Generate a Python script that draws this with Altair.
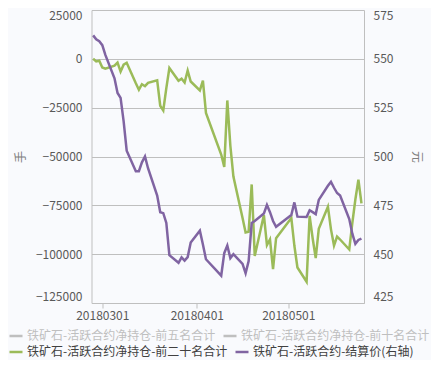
import altair as alt
import pandas as pd

# ---- data ----
dates = [
    "2018-02-26", "2018-02-27", "2018-02-28", "2018-03-01", "2018-03-02",
    "2018-03-05", "2018-03-06", "2018-03-07", "2018-03-08", "2018-03-09",
    "2018-03-12", "2018-03-13", "2018-03-14", "2018-03-15", "2018-03-16",
    "2018-03-19", "2018-03-20", "2018-03-21", "2018-03-22", "2018-03-23",
    "2018-03-26", "2018-03-27", "2018-03-28", "2018-03-29", "2018-03-30",
    "2018-04-02", "2018-04-03", "2018-04-04",
    "2018-04-09", "2018-04-10", "2018-04-11", "2018-04-12", "2018-04-13",
    "2018-04-16", "2018-04-17", "2018-04-18", "2018-04-19", "2018-04-20",
    "2018-04-23", "2018-04-24", "2018-04-25", "2018-04-26", "2018-04-27",
    "2018-05-02", "2018-05-03", "2018-05-04",
    "2018-05-07", "2018-05-08", "2018-05-09", "2018-05-10", "2018-05-11",
    "2018-05-14", "2018-05-15", "2018-05-16", "2018-05-17", "2018-05-18",
    "2018-05-21", "2018-05-22", "2018-05-23", "2018-05-24", "2018-05-25",
]

net_top20 = [
    0, -1300, -1000, -4400, -5000,
    -3500, -1900, -6500, -3000, -2000,
    -12500, -15800, -13000, -14000, -12300,
    -11000, -24000, -26400, -15000, -4700,
    -11200, -10200, -12100, -6000, -11600,
    -16200, -11200, -27700,
    -49000, -55300, -21300, -44500, -60300,
    -81500, -88900, -88500, -64300, -100900,
    -80000, -95400, -92500, -107700, -91800,
    -81500, -95700, -106800,
    -114100, -80400, -92000, -102000, -87000,
    -75700, -87300, -95600, -91000, -92500,
    -97600, -84100, -72000, -61900, -74000,
]

settle_price = [
    562, 560, 559, 557, 552,
    540, 532.5, 530, 518, 503,
    492.5, 492.5, 497, 500, 494,
    480, 471.5, 471, 466, 449.5,
    445.6, 448.4, 446.7, 448.5, 456,
    462, 455, 447.4,
    439, 450.5, 454.4, 448, 450,
    445, 440.2, 446.5, 466, 467,
    470.8, 475.2, 471.5, 467, 464,
    470, 476.5, 469.2,
    469, 472.5, 471.5, 470.5, 477.8,
    485, 487, 484, 481.3, 480,
    468, 460.5, 455.3, 457.3, 458,
]

# series without plotted values (greyed out in the legend)
hidden_series = [
    "铁矿石-活跃合约净持仓-前五名合计",
    "铁矿石-活跃合约净持仓-前十名合计",
]
hidden_colors = ["#bfbfbf", "#bfbfbf"]

shown_series = [
    "铁矿石-活跃合约净持仓-前二十名合计",
    "铁矿石-活跃合约-结算价(右轴)",
]
shown_colors = ["#9bbb59", "#8064a2"]

left_ticks = [-125000, -100000, -75000, -50000, -25000, 0, 25000]
right_ticks = [425, 450, 475, 500, 525, 550, 575]

FONT = "Noto Sans CJK SC"

df_g = pd.DataFrame({"date": pd.to_datetime(dates), "value": net_top20,
                     "series": shown_series[0]})
df_p = pd.DataFrame({"date": pd.to_datetime(dates), "value": settle_price,
                     "series": shown_series[1]})
df_h = pd.DataFrame({"date": [None, None], "value": [None, None],
                     "series": hidden_series})

x_enc = alt.X(
    "date:T",
    title=None,
    scale=alt.Scale(domain=[alt.DateTime(year=2018, month=2, date=25, hours=11),
                            alt.DateTime(year=2018, month=5, date=25, hours=20)]),
    axis=alt.Axis(
        values=[alt.DateTime(year=2018, month=3, date=1),
                alt.DateTime(year=2018, month=4, date=1),
                alt.DateTime(year=2018, month=5, date=1)],
        format="%Y%m%d", grid=False, ticks=True, tickSize=5,
        tickColor="#bfbfbf", domainColor="#bfbfbf", labelPadding=2,
        labelFontSize=12, labelColor="#595959", labelFont=FONT,
    ),
)

legend_common = dict(
    title=None, orient="none", legendX=-83.5, direction="horizontal",
    symbolType="stroke", symbolStrokeWidth=2.5, symbolSize=169,
    labelFont=FONT, labelFontSize=12, labelOffset=3, labelLimit=0,
    columnPadding=2,
)

color_enc = alt.Color(
    "series:N",
    scale=alt.Scale(domain=shown_series, range=shown_colors),
    legend=alt.Legend(legendY=334, labelColor="#404040", **legend_common),
)

green = alt.Chart(df_g).mark_line(strokeWidth=2.5).encode(
    x=x_enc,
    y=alt.Y("value:Q", title="手",
            scale=alt.Scale(domain=[-125000, 25000], nice=False, zero=False),
            axis=alt.Axis(values=left_ticks, format="d", ticks=False,
                          grid=True, gridColor="#bfbfbf", domainColor="#bfbfbf",
                          labelPadding=9.5, labelFontSize=12, labelColor="#595959",
                          labelFlush=True, labelFlushOffset=0,
                          labelFont=FONT, titleFont=FONT, titleFontSize=12,
                          titleFontWeight="normal", titleColor="#7f7f7f",
                          titlePadding=8)),
    color=color_enc,
)

purple = alt.Chart(df_p).mark_line(strokeWidth=2.5).encode(
    x=x_enc,
    y=alt.Y("value:Q", title="元",
            scale=alt.Scale(domain=[425, 575], nice=False, zero=False),
            axis=alt.Axis(orient="right", values=right_ticks, ticks=False,
                          grid=False, domainColor="#bfbfbf",
                          labelPadding=9, labelFontSize=12, labelColor="#595959",
                          labelFlush=True, labelFlushOffset=0,
                          labelFont=FONT, titleFont=FONT, titleFontSize=12,
                          titleFontWeight="normal", titleColor="#7f7f7f",
                          titlePadding=17)),
    color=color_enc,
)

hidden = alt.Chart(df_h).mark_line(strokeWidth=2.5).encode(
    x=x_enc,
    y=alt.Y("value:Q", axis=None, scale=alt.Scale(domain=[0, 1])),
    stroke=alt.Stroke(
        "series:N",
        scale=alt.Scale(domain=hidden_series, range=hidden_colors),
        legend=alt.Legend(legendY=318, labelColor="#bfbfbf", **legend_common),
    ),
)

chart = (
    alt.layer(green, purple, hidden)
    .resolve_scale(y="independent")
    .properties(
        width=272.5, height=293,
        autosize=alt.AutoSizeParams(type="none"),
        padding={"left": 83.5, "top": 2, "right": 67, "bottom": 57},
        background="#f9fafd",
    )
    .configure_view(stroke=None)
)

chart.save("out.html", embed_options={"renderer": "svg", "actions": False})
